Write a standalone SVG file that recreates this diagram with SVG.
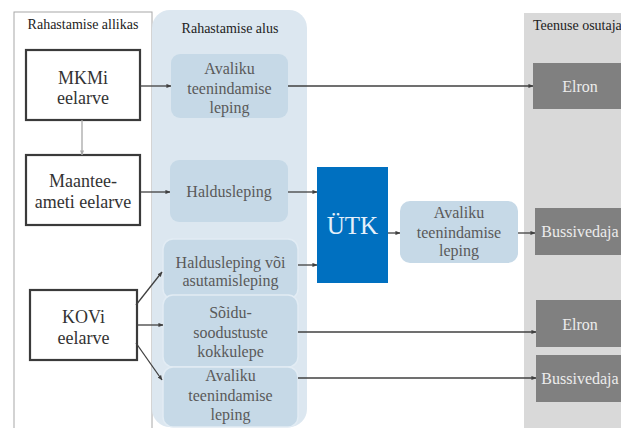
<svg xmlns="http://www.w3.org/2000/svg" width="621" height="428" viewBox="0 0 621 428">
<style>
text{text-anchor:middle}
.hdr{font-size:14px;fill:#222}
.src rect{fill:#fff;stroke:#3a3a3a;stroke-width:2.2}
.src text{font-size:18px;fill:#333}
.bl rect{fill:#c6d9e7}
.bl text{font-size:16px;fill:#5a5a5a}
.bl2 rect{fill:#c6d9e7;stroke:#e2ecf4;stroke-width:1.5}
.op rect{fill:#808080}
.op text{font-size:16px;fill:#ececec}
.c line{stroke:#404040;stroke-width:1.3;marker-end:url(#ah)}
</style>
<defs>
<marker id="ah" viewBox="0 0 6 6" refX="5.5" refY="3" markerWidth="5" markerHeight="5" markerUnits="userSpaceOnUse" orient="auto"><path d="M0,0.5 L6,3 L0,5.5 Z" fill="#404040"/></marker>
<marker id="ahg" viewBox="0 0 6 6" refX="5.5" refY="3" markerWidth="5" markerHeight="5" markerUnits="userSpaceOnUse" orient="auto"><path d="M0,0.5 L6,3 L0,5.5 Z" fill="#a8a8a8"/></marker>
</defs>
<rect width="621" height="428" fill="#fff"/>
<g font-family="'Liberation Serif', 'DejaVu Serif', serif">
<g id="col-allikas">
<rect x="14" y="12" width="138" height="430" fill="#fff" stroke="#a8a8a8" stroke-width="1"/>
<text class="hdr" x="83" y="29">Rahastamise allikas</text>
</g>
<g id="col-alus">
<rect x="152" y="10" width="155" height="417" rx="18" fill="#dce7f0"/>
<text class="hdr" x="230" y="33">Rahastamise alus</text>
</g>
<g id="col-osutaja">
<rect x="524" y="13" width="110" height="430" fill="#d9d9d9"/>
<text class="hdr" x="533" y="30" style="text-anchor:start">Teenuse osutaja</text>
</g>
<g id="mkmi" class="src"><rect x="26" y="50" width="114" height="70"/><text x="83" y="84">MKMi</text><text x="83" y="104">eelarve</text></g>
<g id="maantee" class="src"><rect x="26" y="155" width="114" height="70"/><text x="83" y="187">Maantee-</text><text x="83" y="208">ameti eelarve</text></g>
<g id="kovi" class="src"><rect x="30" y="290" width="107" height="70"/><text x="83.5" y="323">KOVi</text><text x="83.5" y="344">eelarve</text></g>
<g id="avaliku1" class="bl"><rect x="171" y="54" width="117" height="64" rx="9"/><text x="229.5" y="74">Avaliku</text><text x="229.5" y="94">teenindamise</text><text x="229.5" y="113">leping</text></g>
<g id="haldusleping" class="bl"><rect x="170" y="160" width="118" height="62" rx="9"/><text x="229" y="197">Haldusleping</text></g>
<g id="haldus-asut" class="bl bl2"><rect x="163" y="239" width="135" height="60" rx="10"/><text x="230.5" y="268">Haldusleping või</text><text x="230.5" y="286">asutamisleping</text></g>
<g id="soidu" class="bl bl2"><rect x="163" y="295" width="135" height="72" rx="10"/><text x="230.5" y="318">Sõidu-</text><text x="230.5" y="338">soodustuste</text><text x="230.5" y="357">kokkulepe</text></g>
<g id="avaliku3" class="bl bl2"><rect x="163" y="367" width="135" height="60" rx="10"/><text x="230.5" y="381">Avaliku</text><text x="230.5" y="401">teenindamise</text><text x="230.5" y="420">leping</text></g>
<g id="utk"><rect x="317" y="167" width="71" height="116" fill="#0070c0"/><text x="352.5" y="234" style="font-size:25px;fill:#e6f0fa">ÜTK</text></g>
<g id="avaliku2" class="bl"><rect x="400" y="201" width="118" height="62" rx="10"/><text x="459" y="218">Avaliku</text><text x="459" y="238">teenindamise</text><text x="459" y="256">leping</text></g>
<g id="elron1" class="op"><rect x="533" y="63" width="100" height="46"/><text x="580" y="92">Elron</text></g>
<g id="buss1" class="op"><rect x="535" y="208" width="100" height="47"/><text x="580" y="237">Bussivedaja</text></g>
<g id="elron2" class="op"><rect x="536" y="300" width="100" height="47"/><text x="580" y="330">Elron</text></g>
<g id="buss2" class="op"><rect x="536" y="355" width="100" height="47"/><text x="580" y="384">Bussivedaja</text></g>
</g>
<g id="connectors" class="c">
<line x1="82" y1="120" x2="82" y2="155" style="stroke:#a8a8a8;marker-end:url(#ahg)"/>
<line x1="140" y1="86" x2="171" y2="86"/>
<line x1="288" y1="86" x2="533" y2="86"/>
<line x1="140" y1="192" x2="170" y2="192"/>
<line x1="288" y1="192" x2="317" y2="192"/>
<line x1="298" y1="265" x2="317" y2="265"/>
<line x1="388" y1="233" x2="400" y2="233"/>
<line x1="518" y1="233" x2="535" y2="233"/>
<line x1="136" y1="305" x2="162" y2="272"/>
<line x1="137" y1="325" x2="163" y2="325"/>
<line x1="136" y1="343" x2="162" y2="380"/>
<line x1="298" y1="332" x2="536" y2="332"/>
<line x1="298" y1="378" x2="536" y2="378"/>
</g>
</svg>
